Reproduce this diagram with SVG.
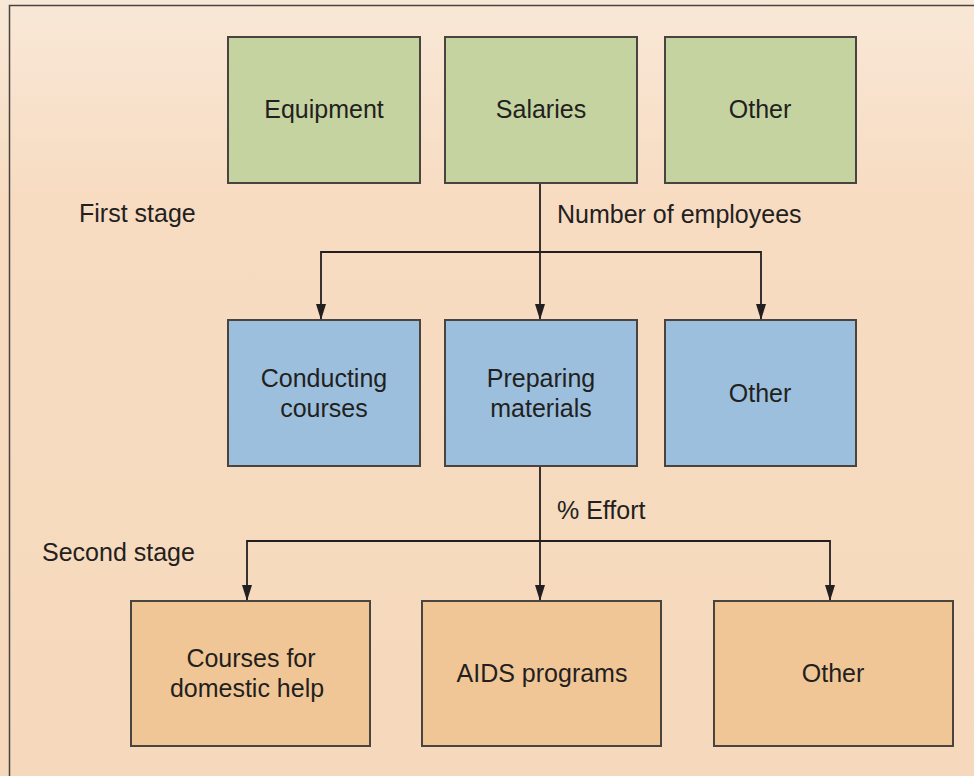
<svg xmlns="http://www.w3.org/2000/svg" width="974" height="776" viewBox="0 0 974 776">
  <defs>
    <linearGradient id="bg" x1="0" y1="0" x2="0" y2="1">
      <stop offset="0" stop-color="#f9e8d7"/>
      <stop offset="0.25" stop-color="#f7dcc2"/>
      <stop offset="1" stop-color="#f6d9bc"/>
    </linearGradient>
    <marker id="arrow" markerWidth="16" markerHeight="10" refX="16" refY="5" orient="auto-start-reverse" markerUnits="userSpaceOnUse" viewBox="0 0 16 10">
      <path d="M0,0 L16,5 L0,10 Z" fill="#231f20"/>
    </marker>
  </defs>
  <style>
    .box { stroke: #4a4440; stroke-width: 2; }
    .cost { fill: #c5d3a0; }
    .act { fill: #9bbfdd; }
    .obj { fill: #f1c697; }
    .lbl { font-family: "Liberation Sans", Arial, sans-serif; font-size: 25px; fill: #231f20; }
    .mid { text-anchor: middle; }
    .wire { fill: none; stroke: #231f20; stroke-width: 1.8; }
  </style>

  <!-- panel -->
  <rect x="0" y="0" width="974" height="776" fill="url(#bg)"/>
  <path d="M9.5,776 V5.5 H974" fill="none" stroke="#4a4440" stroke-width="1.5"/>

  <!-- stage labels -->
  <text class="lbl" x="79" y="222">First stage</text>
  <text class="lbl" x="42" y="561">Second stage</text>

  <!-- connectors -->
  <g id="connectors">
    <line class="wire" x1="540" y1="183" x2="540" y2="320" marker-end="url(#arrow)"/>
    <path class="wire" d="M321,320 V252 H761 V320" marker-start="url(#arrow)" marker-end="url(#arrow)"/>
    <line class="wire" x1="540" y1="466" x2="540" y2="601" marker-end="url(#arrow)"/>
    <path class="wire" d="M247,601 V541 H830 V601" marker-start="url(#arrow)" marker-end="url(#arrow)"/>
    <text class="lbl" x="557" y="223">Number of employees</text>
    <text class="lbl" x="557" y="519">% Effort</text>
  </g>

  <!-- first row: cost pools -->
  <g id="equipment">
    <rect class="box cost" x="228" y="37" width="192" height="146"/>
    <text class="lbl mid" x="324" y="118">Equipment</text>
  </g>
  <g id="salaries">
    <rect class="box cost" x="445" y="37" width="192" height="146"/>
    <text class="lbl mid" x="541" y="118">Salaries</text>
  </g>
  <g id="other-cost">
    <rect class="box cost" x="665" y="37" width="191" height="146"/>
    <text class="lbl mid" x="760" y="118">Other</text>
  </g>

  <!-- second row: activities -->
  <g id="conducting-courses">
    <rect class="box act" x="228" y="320" width="192" height="146"/>
    <text class="lbl mid" x="324" y="387">Conducting</text>
    <text class="lbl mid" x="324" y="417">courses</text>
  </g>
  <g id="preparing-materials">
    <rect class="box act" x="445" y="320" width="192" height="146"/>
    <text class="lbl mid" x="541" y="387">Preparing</text>
    <text class="lbl mid" x="541" y="417">materials</text>
  </g>
  <g id="other-activity">
    <rect class="box act" x="665" y="320" width="191" height="146"/>
    <text class="lbl mid" x="760" y="402">Other</text>
  </g>

  <!-- third row: cost objects -->
  <g id="domestic-help">
    <rect class="box obj" x="131" y="601" width="239" height="145"/>
    <text class="lbl mid" x="251" y="667">Courses for</text>
    <text class="lbl mid" x="247" y="697">domestic help</text>
  </g>
  <g id="aids-programs">
    <rect class="box obj" x="422" y="601" width="239" height="145"/>
    <text class="lbl mid" x="542" y="682">AIDS programs</text>
  </g>
  <g id="other-object">
    <rect class="box obj" x="714" y="601" width="239" height="145"/>
    <text class="lbl mid" x="833" y="682">Other</text>
  </g>
</svg>
